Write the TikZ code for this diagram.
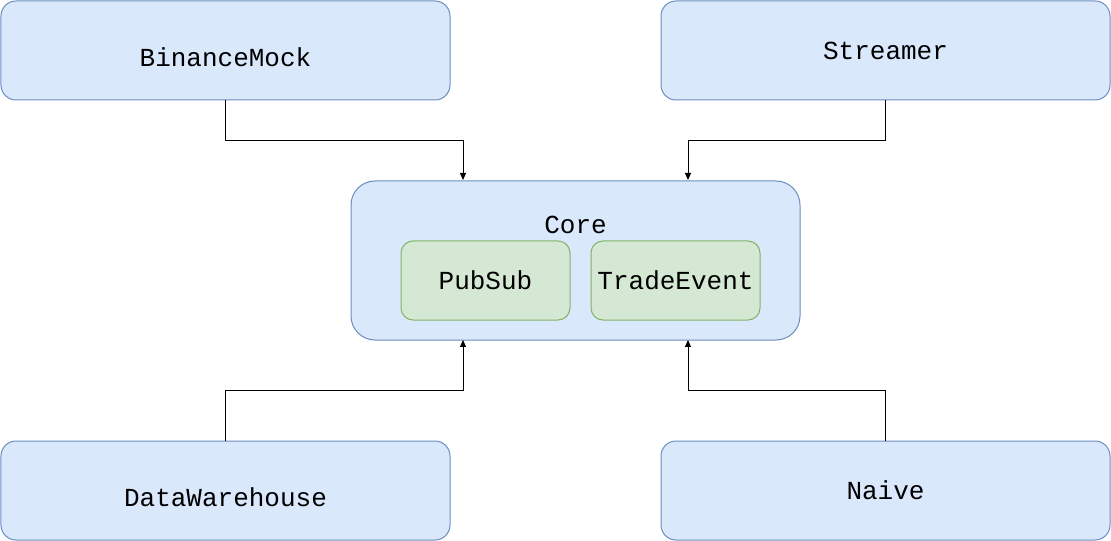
\documentclass[tikz,border=0pt]{standalone}
\usepackage{fontspec}
\setmainfont{Liberation Mono}
\usetikzlibrary{arrows.meta}
\definecolor{bluefill}{HTML}{DAE8FC}
\definecolor{bluedraw}{HTML}{6C8EBF}
\definecolor{greenfill}{HTML}{D5E8D4}
\definecolor{greendraw}{HTML}{82B366}
\tikzset{
  bigbox/.style={draw=bluedraw, fill=bluefill, line width=1bp, rounded corners=15bp,
    minimum width=449bp, minimum height=99bp, inner sep=0pt, anchor=north west,
    font=\fontsize{26bp}{30bp}\selectfont},
  corebox/.style={bigbox, rounded corners=24bp, minimum height=159bp},
  subbox/.style={draw=greendraw, fill=greenfill, line width=1bp, rounded corners=12bp,
    minimum width=169bp, minimum height=79bp, inner sep=0pt, anchor=north west,
    font=\fontsize{26bp}{30bp}\selectfont},
  conn/.style={draw=black, line width=1bp, -{Triangle[length=7bp,width=6bp]}}
}
\begin{document}
\begin{tikzpicture}[x=1bp,y=-1bp]
\useasboundingbox (0,0) rectangle (1111,541);
\node[bigbox] (bm) at (0.5,0.5) {\raisebox{-7bp}[\height][\depth]{BinanceMock}};
\node[bigbox] (st) at (660.5,0.5) {Streamer};
\node[corebox] (core) at (350.5,180.5) {\raisebox{36bp}[\height][\depth]{Core}};
\node[subbox] (ps) at (400.5,240.5) {PubSub};
\node[subbox] (te) at (590.5,240.5) {TradeEvent};
\node[bigbox] (dw) at (0.5,440.5) {\raisebox{-7bp}[\height][\depth]{DataWarehouse}};
\node[bigbox] (nv) at (660.5,440.5) {Naive};
\coordinate (cin1) at (463,180);
\coordinate (cin2) at (688,180);
\coordinate (cout1) at (463,340);
\coordinate (cout2) at (688,340);
\draw[conn] (bm.south) |- (463,140.5) -- (cin1);
\draw[conn] (st.south) |- (688,140.5) -- (cin2);
\draw[conn] (dw.north) |- (463,390.5) -- (cout1);
\draw[conn] (nv.north) |- (688,390.5) -- (cout2);
\end{tikzpicture}
\end{document}
